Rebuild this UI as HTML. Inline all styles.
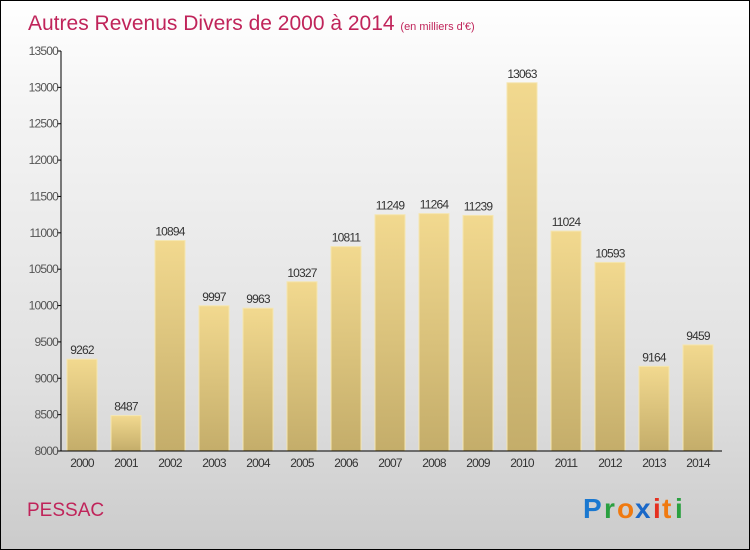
<!DOCTYPE html>
<html><head><meta charset="utf-8"><style>
body{margin:0}
#c{width:748px;height:548px;border:1px solid #000;background:linear-gradient(#fff,#f4f4f4 20%,#e0e0e0 70%,#cbcbcb);position:relative;font-family:"Liberation Sans",sans-serif;overflow:hidden}
</style></head><body>
<div id="c">
<svg width="748" height="548" id="s">
<defs><linearGradient id="g" x1="0" y1="0" x2="0" y2="1"><stop offset="0" stop-color="#f2d98f"/><stop offset="1" stop-color="#c4ad6a"/></linearGradient></defs>
<text x="27" y="29" font-size="21" fill="#c0245a">Autres Revenus Divers de 2000 à 2014 <tspan font-size="11">(en milliers d'€)</tspan></text>
<text x="26" y="515" font-size="19" fill="#c0245a">PESSAC</text>
<g font-size="28" font-weight="bold"><text x="582" y="517" fill="#1a78d0">P</text><text x="603" y="517" fill="#2aa040">r</text><text x="616" y="517" fill="#f07a10">o</text><text x="634" y="517" fill="#1a68c8">x</text><text x="652" y="517" fill="#e53020">i</text><text x="661" y="517" fill="#f07a10">t</text><text x="674" y="517" fill="#2aa040">i</text></g>
</svg></div>
<script>
const years=["2000","2001","2002","2003","2004","2005","2006","2007","2008","2009","2010","2011","2012","2013","2014"];
const values=[9262,8487,10894,9997,9963,10327,10811,11249,11264,11239,13063,11024,10593,9164,9459];
const yTicks=[8000,8500,9000,9500,10000,10500,11000,11500,12000,12500,13000,13500];
const s=document.getElementById('s');const NS="http://www.w3.org/2000/svg";
const y=v=>450-(v-8000)*400/5500;const x=i=>81+i*44;
function mk(t,a,txt){const e=document.createElementNS(NS,t);for(const k in a)e.setAttribute(k,a[k]);if(txt!=null)e.textContent=txt;s.appendChild(e);return e;}
yTicks.forEach(v=>{
const l=mk('line',{x1:56,x2:60,y1:y(v),y2:y(v),stroke:'#000'});


const t=mk('text',{x:57,y:y(v)+4,'text-anchor':'end','font-size':12,fill:'#555','letter-spacing':'-0.8'},v);


});
values.forEach((v,i)=>{
const r=mk('rect',{x:x(i)-15,y:y(v),width:30,height:450-y(v),fill:'url(#g)',stroke:'#f5e6b0','stroke-width':1});


const t=mk('text',{x:x(i),y:y(v)-5,'text-anchor':'middle','font-size':12,fill:'#333','letter-spacing':'-0.8'},v);


const xl=mk('text',{x:x(i),y:466,'text-anchor':'middle','font-size':12,fill:'#333','letter-spacing':'-0.8'},years[i]);


});
const ya=mk('line',{x1:60,x2:60,y1:50,y2:450,stroke:'#000'});


const xa=mk('line',{x1:60,x2:721,y1:450,y2:450,stroke:'#000'});


</script>
</body></html>
